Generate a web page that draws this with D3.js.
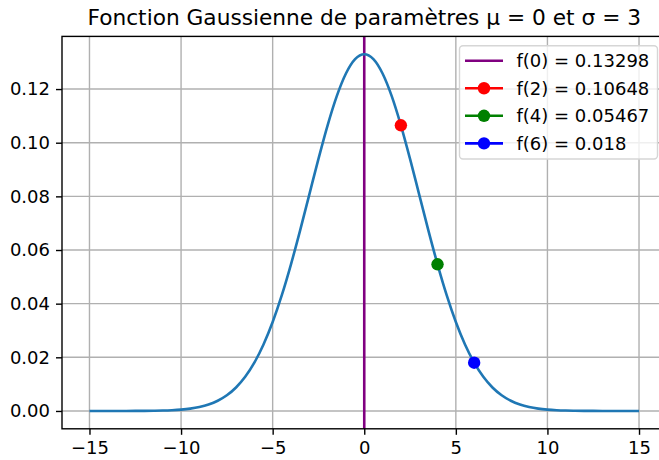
<!DOCTYPE html>
<html>
<head>
<meta charset="utf-8">
<script src="https://cdn.jsdelivr.net/npm/d3@7"></script>
<style>
  body { margin: 0; background: #fff; }
  text { font-family: "DejaVu Sans", sans-serif; fill: #000; }
</style>
</head>
<body>
<div id="chart"></div>
<script>
// curve values
var xs = [-15, -14.5, -14, -13.5, -13, -12.5, -12, -11.5, -11, -10.5, -10, -9.5, -9, -8.5, -8, -7.5, -7, -6.5, -6, -5.5, -5, -4.5, -4, -3.5, -3, -2.5, -2, -1.5, -1, -0.5,
  0, 0.5, 1, 1.5, 2, 2.5, 3, 3.5, 4, 4.5, 5, 5.5, 6, 6.5, 7, 7.5, 8, 8.5, 9, 9.5, 10, 10.5, 11, 11.5, 12, 12.5, 13, 13.5, 14, 14.5, 15];
var ys = [0, 0, 0, 0, 0.00001, 0.00002, 0.00004, 0.00009, 0.00016, 0.00029, 0.00051, 0.00088, 0.00148, 0.0024, 0.0038, 0.00584, 0.00874, 0.01272, 0.018, 0.02477, 0.03316, 0.04317, 0.05467, 0.06733, 0.08066, 0.09397, 0.10648, 0.11735, 0.12579, 0.13115,
  0.13298, 0.13115, 0.12579, 0.11735, 0.10648, 0.09397, 0.08066, 0.06733, 0.05467, 0.04317, 0.03316, 0.02477, 0.018, 0.01272, 0.00874, 0.00584, 0.0038, 0.0024, 0.00148, 0.00088, 0.00051, 0.00029, 0.00016, 0.00009, 0.00004, 0.00002, 0.00001, 0, 0, 0, 0];

var peakX = 0, peakY = 0.13298;
var pointXs = [2, 4, 6];
var pointYs = [0.10648, 0.05467, 0.018];
var pointColors = ["red", "green", "blue"];
var legendLabels = ["f(0) = 0.13298", "f(2) = 0.10648", "f(4) = 0.05467", "f(6) = 0.018"];
var xTicks = [-15, -10, -5, 0, 5, 10, 15];
var yTicks = [0, 0.02, 0.04, 0.06, 0.08, 0.1, 0.12];

var width = 659, height = 460;
var margin = {left: 62, top: 36.4, right: -7.5, bottom: 31.2};
var innerW = width - margin.left - margin.right;
var innerH = height - margin.top - margin.bottom;

var svg = d3.select("#chart").append("svg")
  .attr("width", width)
  .attr("height", height);

var xPad = (d3.max(xs) - d3.min(xs)) * 0.05;
var yPad = peakY * 0.05;
var x = d3.scaleLinear().domain([d3.min(xs) - xPad, d3.max(xs) + xPad]).range([0, innerW]);
var y = d3.scaleLinear().domain([-yPad, peakY + yPad]).range([innerH, 0]);

var g = svg.append("g").attr("transform", "translate(" + margin.left + "," + margin.top + ")");

// grid
g.append("g").selectAll("line").data(xTicks).enter().append("line")
  .attr("x1", d => x(d)).attr("x2", d => x(d))
  .attr("y1", 0).attr("y2", innerH)
  .attr("stroke", "#b0b0b0").attr("stroke-width", 1.4);
g.append("g").selectAll("line").data(yTicks).enter().append("line")
  .attr("x1", 0).attr("x2", innerW)
  .attr("y1", d => y(d)).attr("y2", d => y(d))
  .attr("stroke", "#b0b0b0").attr("stroke-width", 1.4);

// vertical line at the peak
g.append("line")
  .attr("x1", x(peakX)).attr("x2", x(peakX))
  .attr("y1", 0).attr("y2", innerH)
  .attr("stroke", "purple").attr("stroke-width", 2.6);

var line = d3.line()
  .x((d, i) => x(xs[i]))
  .y(d => y(d))
  .curve(d3.curveMonotoneX);

g.append("path")
  .datum(ys)
  .attr("d", line)
  .attr("fill", "none")
  .attr("stroke", "#1f77b4")
  .attr("stroke-width", 2.6);

g.selectAll(".pt").data(pointXs).enter().append("circle")
  .attr("class", "pt")
  .attr("cx", d => x(d))
  .attr("cy", (d, i) => y(pointYs[i]))
  .attr("r", 6.2)
  .attr("fill", (d, i) => pointColors[i]);

// axes
var xAxis = d3.axisBottom(x).tickValues(xTicks).tickSize(6).tickPadding(6).tickFormat(d3.format("d"));
var yAxis = d3.axisLeft(y).tickValues(yTicks).tickSize(6).tickPadding(6).tickFormat(d3.format(".2f"));

var gx = g.append("g").attr("transform", "translate(0," + innerH + ")").call(xAxis);
var gy = g.append("g").call(yAxis);
[gx, gy].forEach(a => {
  a.select(".domain").remove();
  a.selectAll(".tick line").attr("stroke", "#000").attr("stroke-width", 1.4);
  a.selectAll(".tick text").style("font-size", "18px").attr("fill", "#000");
});

// spines
g.append("rect")
  .attr("x", 0).attr("y", 0).attr("width", innerW).attr("height", innerH)
  .attr("fill", "none").attr("stroke", "#000").attr("stroke-width", 1.4);

// title
svg.append("text")
  .attr("x", margin.left + innerW / 2)
  .attr("y", 25)
  .attr("text-anchor", "middle")
  .style("font-size", "21.7px")
  .text("Fonction Gaussienne de paramètres μ = 0 et σ = 3");

// legend
var legend = svg.append("g").attr("transform", "translate(459.5,45.7)");
legend.append("rect")
  .attr("width", 198).attr("height", 113.3)
  .attr("rx", 3.5)
  .attr("fill", "#fff").attr("fill-opacity", 0.8)
  .attr("stroke", "#d6d6d6").attr("stroke-width", 1.4);

var legendColors = ["purple"].concat(pointColors);
var rows = legend.selectAll(".row").data(legendLabels).enter().append("g")
  .attr("class", "row")
  .attr("transform", (d, i) => "translate(0," + (15 + i * 27.55) + ")");
rows.append("line")
  .attr("x1", 5.5).attr("x2", 43.5)
  .attr("stroke", (d, i) => legendColors[i]).attr("stroke-width", 2.6);
rows.filter((d, i) => i > 0).append("circle")
  .attr("cx", 24.5).attr("r", 6.2)
  .attr("fill", (d, i) => pointColors[i]);
rows.append("text")
  .attr("x", 57)
  .attr("dy", "0.35em")
  .style("font-size", "18px")
  .text(d => d);
</script>
</body>
</html>
